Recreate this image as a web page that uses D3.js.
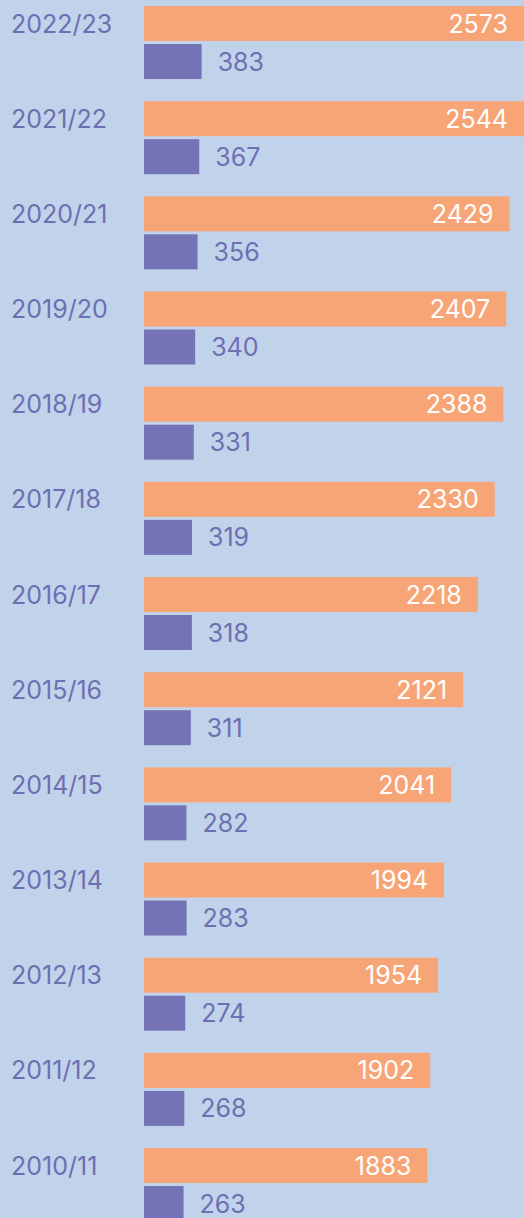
<!DOCTYPE html>
<html lang="en">
<head>
  <meta charset="UTF-8">
  <title>Bars by year</title>
  <style>
    body { margin: 0; background: #c1d3ea; }
    svg { display: block; font-family: Inter, Roboto, sans-serif; }
    .cat { fill: #6e6fb2; font-size: 25px; }
    .val-a { fill: #ffffff; font-size: 25px; }
    .val-b { fill: #6e6fb2; font-size: 25px; }
  </style>
</head>
<body>
  <script src="https://d3js.org/d3.v7.min.js"></script>
  <script>
    // data, top row first
    const years = ['2022/23','2021/22','2020/21','2019/20','2018/19','2017/18','2016/17',
                   '2015/16','2014/15','2013/14','2012/13','2011/12','2010/11'];
    const seriesA = [2573, 2544, 2429, 2407, 2388, 2330, 2218, 2121, 2041, 1994, 1954, 1902, 1883];
    const seriesB = [383, 367, 356, 340, 331, 319, 318, 311, 282, 283, 274, 268, 263];

    const WIDTH = 524;
    const HEIGHT = 1218;
    const barH = 35;
    const gap = 3;

    const svg = d3.select('body').append('svg')
      .attr('width', WIDTH)
      .attr('height', HEIGHT);

    svg.append('rect')
      .attr('width', WIDTH).attr('height', HEIGHT)
      .attr('fill', '#c1d3ea');

    const x = d3.scaleLinear().domain([0, 2600]).range([144, 144 + 2600 * 0.1505]);
    const y = d3.scaleBand().domain(years).range([6, 6 + 95.17 * years.length]).paddingInner(0).paddingOuter(0);

    const rows = svg.selectAll('g.row')
      .data(years)
      .join('g')
        .attr('class', 'row')
        .attr('transform', d => `translate(0,${y(d)})`);

    rows.append('text')
      .attr('class', 'cat')
      .attr('x', 11)
      .attr('y', barH / 2)
      .attr('dy', '0.36em')
      .text(d => d);

    // orange series
    rows.append('rect')
      .attr('x', x(0))
      .attr('y', 0)
      .attr('width', (d, i) => x(seriesA[i]) - x(0))
      .attr('height', barH)
      .attr('fill', '#f7a577');

    rows.append('text')
      .attr('class', 'val-a')
      .attr('x', (d, i) => Math.min(x(seriesA[i]), WIDTH) - 16)
      .attr('y', barH / 2)
      .attr('dy', '0.36em')
      .attr('text-anchor', 'end')
      .text((d, i) => seriesA[i]);

    // purple series
    rows.append('rect')
      .attr('x', x(0))
      .attr('y', barH + gap)
      .attr('width', (d, i) => x(seriesB[i]) - x(0))
      .attr('height', barH)
      .attr('fill', '#7373b5');

    rows.append('text')
      .attr('class', 'val-b')
      .attr('x', (d, i) => x(seriesB[i]) + 16)
      .attr('y', barH + gap + barH / 2)
      .attr('dy', '0.36em')
      .text((d, i) => seriesB[i]);
  </script>
</body>
</html>
